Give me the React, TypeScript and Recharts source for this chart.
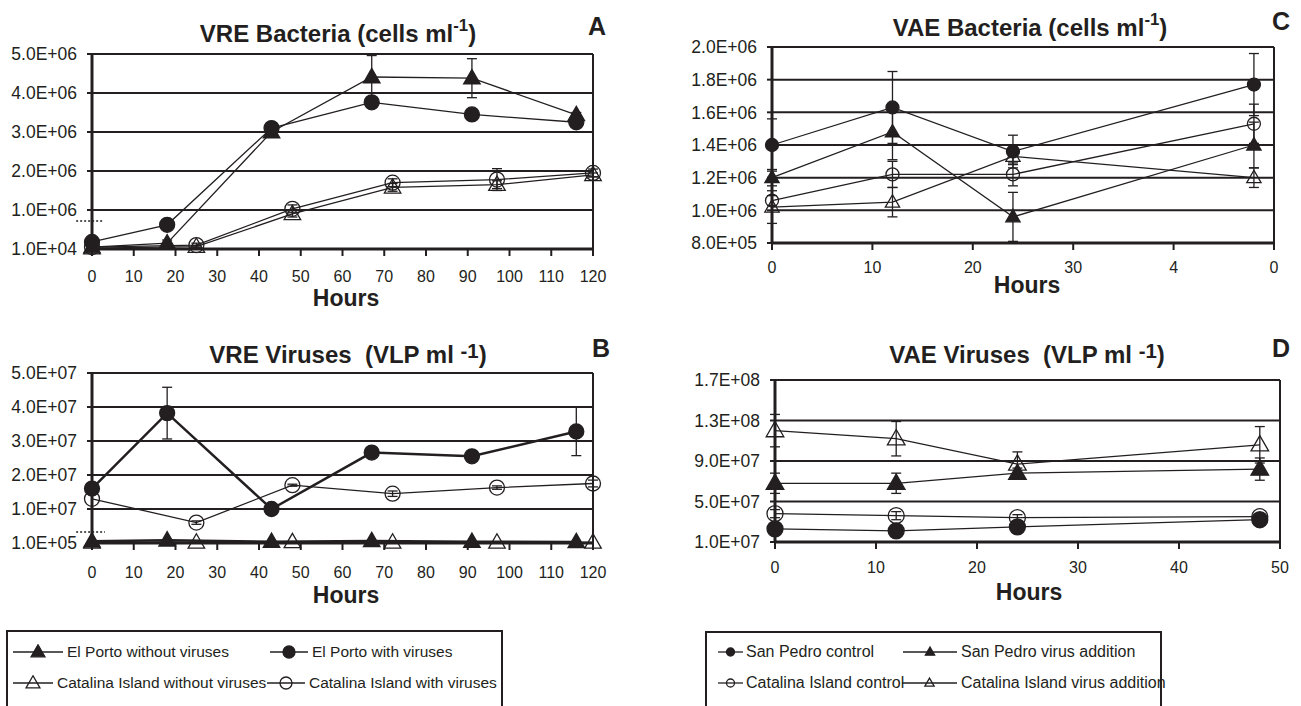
import React from 'react';
import { ScatterChart, Scatter, XAxis, YAxis, CartesianGrid, ErrorBar, ReferenceLine } from 'recharts';

const FONT = '"Liberation Sans", Arial, Helvetica, sans-serif';
const INK = '#231f20';

// ---- Panel A: VRE bacteria (cells/ml) ----
const aHoursEP = [0, 18, 43, 67, 91, 116];
const aHoursCI = [0, 25, 48, 72, 97, 120];
const aEPwithout = [0.05e6, 0.15e6, 3.0e6, 4.41e6, 4.38e6, 3.44e6];
const aEPwithoutErr = [0, 0.08e6, 0.1e6, 0.55e6, 0.5e6, 0.06e6];
const aEPwith = [0.18e6, 0.62e6, 3.1e6, 3.76e6, 3.45e6, 3.25e6];
const aEPwithErr = [0, 0.04e6, 0.05e6, 0.05e6, 0.04e6, 0.05e6];
const aCIwithout = [0.02e6, 0.06e6, 0.9e6, 1.58e6, 1.65e6, 1.9e6];
const aCIwithoutErr = [0, 0.03e6, 0.08e6, 0.1e6, 0.1e6, 0.05e6];
const aCIwith = [0.05e6, 0.1e6, 1.03e6, 1.7e6, 1.78e6, 1.95e6];
const aCIwithErr = [0, 0.05e6, 0.1e6, 0.1e6, 0.28e6, 0.1e6];
const aYTicks = [0, 1e6, 2e6, 3e6, 4e6, 5e6];
const aYLabels = ['1.0E+04', '1.0E+06', '2.0E+06', '3.0E+06', '4.0E+06', '5.0E+06'];

// ---- Panel B: VRE viruses (VLP/ml) ----
const bEPwithout = [0.05e7, 0.08e7, 0.04e7, 0.06e7, 0.04e7, 0.03e7];
const bEPwith = [1.6e7, 3.82e7, 1.0e7, 2.66e7, 2.55e7, 3.28e7];
const bEPwithErr = [0, 0.76e7, 0, 0, 0, 0.71e7];
const bCIwithout = [0.02e7, 0.02e7, 0.03e7, 0.02e7, 0.02e7, 0.02e7];
const bCIwith = [1.3e7, 0.6e7, 1.7e7, 1.45e7, 1.63e7, 1.75e7];
const bCIwithErr = [0, 0.05e7, 0.03e7, 0.08e7, 0.05e7, 0.1e7];
const bYTicks = [0, 1e7, 2e7, 3e7, 4e7, 5e7];
const bYLabels = ['1.0E+05', '1.0E+07', '2.0E+07', '3.0E+07', '4.0E+07', '5.0E+07'];

const abXTicks = [0, 10, 20, 30, 40, 50, 60, 70, 80, 90, 100, 110, 120];
const abXLabels = ['0', '10', '20', '30', '40', '50', '60', '70', '80', '90', '100', '110', '120'];

// ---- Panel C: VAE bacteria (cells/ml) ----
const cdHours = [0, 12, 24, 48];
const cSPcontrol = [1.4e6, 1.63e6, 1.36e6, 1.77e6];
const cSPcontrolErr = [0.16e6, 0.22e6, 0.1e6, 0.19e6];
const cSPvirus = [1.2e6, 1.48e6, 0.96e6, 1.4e6];
const cSPvirusErr = [0.05e6, 0.17e6, 0.15e6, 0.14e6];
const cCIcontrol = [1.06e6, 1.22e6, 1.22e6, 1.53e6];
const cCIcontrolErr = [0.03e6, 0.08e6, 0.07e6, 0.12e6];
const cCIvirus = [1.02e6, 1.05e6, 1.33e6, 1.2e6];
const cCIvirusErr = [0.1e6, 0.09e6, 0.05e6, 0.06e6];
const cYTicks = [8e5, 1e6, 1.2e6, 1.4e6, 1.6e6, 1.8e6, 2e6];
const cYLabels = ['8.0E+05', '1.0E+06', '1.2E+06', '1.4E+06', '1.6E+06', '1.8E+06', '2.0E+06'];
const cXTicks = [0, 10, 20, 30, 40, 50];
const cXLabels = ['0', '10', '20', '30', '4', '0'];

// ---- Panel D: VAE viruses (VLP/ml) ----
const dSPcontrol = [2.3e7, 2.1e7, 2.5e7, 3.2e7];
const dSPcontrolErr = [0.3e7, 0.2e7, 0.2e7, 0.2e7];
const dSPvirus = [6.8e7, 6.8e7, 7.8e7, 8.2e7];
const dSPvirusErr = [1.0e7, 1.0e7, 0.5e7, 1.1e7];
const dCIcontrol = [3.8e7, 3.6e7, 3.4e7, 3.5e7];
const dCIcontrolErr = [0.4e7, 0.4e7, 0.3e7, 0.2e7];
const dCIvirus = [1.2e8, 1.12e8, 8.7e7, 1.06e8];
const dCIvirusErr = [1.6e7, 1.7e7, 1.2e7, 1.8e7];
const dYTicks = [1e7, 5e7, 9e7, 1.3e8, 1.7e8];
const dYLabels = ['1.0E+07', '5.0E+07', '9.0E+07', '1.3E+08', '1.7E+08'];
const dXTicks = [0, 10, 20, 30, 40, 50];
const dXLabels = ['0', '10', '20', '30', '40', '50'];

type Kind = 'tri' | 'circ';
type Pt = { x: number; y: number; e?: number };

const pts = (xs: number[], ys: number[], es?: number[]): Pt[] =>
  xs.map((x, i) => ({ x, y: ys[i], e: es && es[i] ? es[i] : undefined }));

const markerShape = (kind: Kind, filled: boolean, size: number) => (p: any) => {
  const { cx, cy } = p;
  if (cx == null || cy == null) return <g />;
  const fill = filled ? INK : 'none';
  if (kind === 'circ') return <circle cx={cx} cy={cy} r={size} fill={fill} stroke={INK} strokeWidth={1.3} />;
  const w = size * 2.2;
  const h = w * 0.87;
  const poly = `${cx},${cy - h * 0.6} ${cx - w / 2},${cy + h * 0.4} ${cx + w / 2},${cy + h * 0.4}`;
  return <polygon points={poly} fill={fill} stroke={INK} strokeWidth={1.3} strokeLinejoin="miter" />;
};

interface Series {
  name: string;
  data: Pt[];
  kind: Kind;
  filled: boolean;
  lw: number;
}

interface PanelProps {
  left: number;
  top: number;
  width: number;
  height: number;
  margin: { top: number; right: number; bottom: number; left: number };
  xMax: number;
  xTicks: number[];
  xLabels: string[];
  yDomain: [number, number];
  yTicks: number[];
  yLabels: string[];
  xTickMargin: number;
  size: number;
  series: Series[];
  brk?: { y: number; x1: number; x2: number };
}

const Panel = (p: PanelProps) => (
  <div style={{ position: 'absolute', left: p.left, top: p.top }}>
    <ScatterChart width={p.width} height={p.height} margin={p.margin}>
      <CartesianGrid vertical={false} stroke={INK} strokeWidth={2} />
      <XAxis
        type="number"
        dataKey="x"
        domain={[0, p.xMax]}
        ticks={p.xTicks}
        tickFormatter={(v: number) => p.xLabels[p.xTicks.indexOf(v)]}
        height={40}
        axisLine={{ stroke: INK, strokeWidth: 3 }}
        tickLine={{ stroke: INK, strokeWidth: 2 }}
        tickSize={7}
        tickMargin={p.xTickMargin}
        tick={{ fill: INK, fontSize: 16, fontFamily: FONT }}
      />
      <YAxis
        type="number"
        dataKey="y"
        domain={p.yDomain}
        ticks={p.yTicks}
        tickFormatter={(v: number) => p.yLabels[p.yTicks.indexOf(v)]}
        width={80}
        axisLine={{ stroke: INK, strokeWidth: 3 }}
        tickLine={{ stroke: INK, strokeWidth: 2 }}
        tickSize={5}
        tickMargin={10}
        tick={{ fill: INK, fontSize: 17.5, fontFamily: FONT }}
      />
      <ReferenceLine x={p.xMax} stroke={INK} strokeWidth={2} />
      {p.brk && (
        <ReferenceLine
          segment={[{ x: p.brk.x1, y: p.brk.y }, { x: p.brk.x2, y: p.brk.y }]}
          stroke={INK}
          strokeWidth={1.5}
          strokeDasharray="2 2"
          ifOverflow="visible"
        />
      )}
      {p.series.map((s) => (
        <Scatter
          key={s.name}
          name={s.name}
          data={s.data}
          line={{ stroke: INK, strokeWidth: s.lw }}
          shape={markerShape(s.kind, s.filled, p.size)}
          isAnimationActive={false}
        >
          <ErrorBar dataKey="e" direction="y" width={5} stroke={INK} strokeWidth={1.3} isAnimationActive={false} />
        </Scatter>
      ))}
    </ScatterChart>
  </div>
);

const Title = ({ cx, baseline, text, sup, supSize, supRaise }: { cx: number; baseline: number; text: string; sup: string; supSize: number; supRaise: number }) => {
  const fs = 24;
  return (
    <div
      style={{
        position: 'absolute',
        left: cx - 250,
        width: 500,
        top: baseline - fs * 0.8465,
        textAlign: 'center',
        fontFamily: FONT,
        fontWeight: 'bold',
        fontSize: fs,
        lineHeight: 1,
        color: INK,
        whiteSpace: 'pre',
      }}
    >
      {text}
      <span style={{ position: 'relative', top: -supRaise * fs, fontSize: supSize * fs }}>{sup}</span>)
    </div>
  );
};

const BoldText = ({ x, baseline, text, fs, center }: { x: number; baseline: number; text: string; fs: number; center?: boolean }) => (
  <div
    style={{
      position: 'absolute',
      left: center ? x - 100 : x,
      width: center ? 200 : undefined,
      textAlign: center ? 'center' : 'left',
      top: baseline - fs * 0.8465,
      fontFamily: FONT,
      fontWeight: 'bold',
      fontSize: fs,
      lineHeight: 1,
      color: INK,
    }}
  >
    {text}
  </div>
);

const LegendIcon = ({ kind, filled, w, r }: { kind: Kind; filled: boolean; w: number; r: number }) => (
  <svg width={w} height={16} style={{ display: 'block' }}>
    <line x1={0} y1={8} x2={w} y2={8} stroke={INK} strokeWidth={1.3} />
    {markerShape(kind, filled, r)({ cx: w / 2, cy: 8 })}
  </svg>
);

interface LegendEntry { name: string; kind: Kind; filled: boolean }
// x = icon start, w = icon length, tx = text start (global px), row index
interface LegendSlot { x: number; w: number; tx: number; row: number }

const LegendBox = ({ left, top, width, fs, r, rows, slots, entries }: { left: number; top: number; width: number; fs: number; r: number; rows: number[]; slots: LegendSlot[]; entries: LegendEntry[] }) => (
  <div style={{ position: 'absolute', left, top, width, height: 100, border: `2px solid ${INK}`, boxSizing: 'border-box' }}>
    {entries.map((en, i) => {
      const s = slots[i];
      const cy = rows[s.row] - top - 2;
      return (
        <React.Fragment key={en.name}>
          <div style={{ position: 'absolute', left: s.x - left - 2, top: cy - 8 }}>
            <LegendIcon kind={en.kind} filled={en.filled} w={s.w} r={en.kind === 'circ' ? r : r * 1.05} />
          </div>
          <div
            style={{
              position: 'absolute',
              left: s.tx - left - 2,
              top: cy - fs * 0.55,
              fontFamily: FONT,
              fontSize: fs,
              lineHeight: 1.1,
              color: INK,
              whiteSpace: 'nowrap',
            }}
          >
            {en.name}
          </div>
        </React.Fragment>
      );
    })}
  </div>
);

const vreLegend: LegendEntry[] = [
  { name: 'El Porto without viruses', kind: 'tri', filled: true },
  { name: 'El Porto with viruses', kind: 'circ', filled: true },
  { name: 'Catalina Island without viruses', kind: 'tri', filled: false },
  { name: 'Catalina Island with viruses', kind: 'circ', filled: false },
];

const vaeLegend: LegendEntry[] = [
  { name: 'San Pedro control', kind: 'circ', filled: true },
  { name: 'San Pedro virus addition', kind: 'tri', filled: true },
  { name: 'Catalina Island control', kind: 'circ', filled: false },
  { name: 'Catalina Island virus addition', kind: 'tri', filled: false },
];

const vreSlots: LegendSlot[] = [
  { x: 13, w: 50, tx: 67, row: 0 },
  { x: 270, w: 38, tx: 312, row: 0 },
  { x: 13, w: 40, tx: 57, row: 1 },
  { x: 267, w: 38, tx: 309, row: 1 },
];

const vaeSlots: LegendSlot[] = [
  { x: 718, w: 25, tx: 746, row: 0 },
  { x: 903, w: 54, tx: 961, row: 0 },
  { x: 718, w: 25, tx: 746, row: 1 },
  { x: 902, w: 55, tx: 961, row: 1 },
];

export default function App() {
  const seriesA: Series[] = [
    { name: 'El Porto without viruses', data: pts(aHoursEP, aEPwithout, aEPwithoutErr), kind: 'tri', filled: true, lw: 1.3 },
    { name: 'El Porto with viruses', data: pts(aHoursEP, aEPwith, aEPwithErr), kind: 'circ', filled: true, lw: 1.3 },
    { name: 'Catalina Island without viruses', data: pts(aHoursCI, aCIwithout, aCIwithoutErr), kind: 'tri', filled: false, lw: 1.3 },
    { name: 'Catalina Island with viruses', data: pts(aHoursCI, aCIwith, aCIwithErr), kind: 'circ', filled: false, lw: 1.3 },
  ];
  const seriesB: Series[] = [
    { name: 'Catalina Island without viruses', data: pts(aHoursCI, bCIwithout), kind: 'tri', filled: false, lw: 1.3 },
    { name: 'Catalina Island with viruses', data: pts(aHoursCI, bCIwith, bCIwithErr), kind: 'circ', filled: false, lw: 1.3 },
    { name: 'El Porto without viruses', data: pts(aHoursEP, bEPwithout), kind: 'tri', filled: true, lw: 2.5 },
    { name: 'El Porto with viruses', data: pts(aHoursEP, bEPwith, bEPwithErr), kind: 'circ', filled: true, lw: 2.5 },
  ];
  const seriesC: Series[] = [
    { name: 'San Pedro control', data: pts(cdHours, cSPcontrol, cSPcontrolErr), kind: 'circ', filled: true, lw: 1.3 },
    { name: 'San Pedro virus addition', data: pts(cdHours, cSPvirus, cSPvirusErr), kind: 'tri', filled: true, lw: 1.3 },
    { name: 'Catalina Island control', data: pts(cdHours, cCIcontrol, cCIcontrolErr), kind: 'circ', filled: false, lw: 1.3 },
    { name: 'Catalina Island virus addition', data: pts(cdHours, cCIvirus, cCIvirusErr), kind: 'tri', filled: false, lw: 1.3 },
  ];
  const seriesD: Series[] = [
    { name: 'San Pedro control', data: pts(cdHours, dSPcontrol, dSPcontrolErr), kind: 'circ', filled: true, lw: 1.3 },
    { name: 'San Pedro virus addition', data: pts(cdHours, dSPvirus, dSPvirusErr), kind: 'tri', filled: true, lw: 1.3 },
    { name: 'Catalina Island control', data: pts(cdHours, dCIcontrol, dCIcontrolErr), kind: 'circ', filled: false, lw: 1.3 },
    { name: 'Catalina Island virus addition', data: pts(cdHours, dCIvirus, dCIvirusErr), kind: 'tri', filled: false, lw: 1.3 },
  ];

  return (
    <div style={{ position: 'absolute', left: 0, top: 0, width: 1301, height: 706, background: '#fff', overflow: 'hidden' }}>
      <Panel
        left={0} top={0} width={640} height={310}
        margin={{ top: 54, right: 47, bottom: 21, left: 12 }}
        xMax={120} xTicks={abXTicks} xLabels={abXLabels}
        yDomain={[0, 5e6]} yTicks={aYTicks} yLabels={aYLabels}
        xTickMargin={15} size={7.5} series={seriesA}
        brk={{ y: 0.72e6, x1: -3.8, x2: 2.6 }}
      />
      <Panel
        left={0} top={320} width={640} height={290}
        margin={{ top: 53, right: 47, bottom: 27, left: 12 }}
        xMax={120} xTicks={abXTicks} xLabels={abXLabels}
        yDomain={[0, 5e7]} yTicks={bYTicks} yLabels={bYLabels}
        xTickMargin={17} size={7.5} series={seriesB}
        brk={{ y: 0.32e7, x1: -3.8, x2: 3.1 }}
      />
      <Panel
        left={640} top={0} width={661} height={300}
        margin={{ top: 47, right: 27, bottom: 17, left: 52 }}
        xMax={50} xTicks={cXTicks} xLabels={cXLabels}
        yDomain={[8e5, 2e6]} yTicks={cYTicks} yLabels={cYLabels}
        xTickMargin={12} size={6.5} series={seriesC}
      />
      <Panel
        left={640} top={320} width={661} height={290}
        margin={{ top: 60, right: 21, bottom: 28, left: 55 }}
        xMax={50} xTicks={dXTicks} xLabels={dXLabels}
        yDomain={[1e7, 1.7e8]} yTicks={dYTicks} yLabels={dYLabels}
        xTickMargin={13} size={8} series={seriesD}
      />

      <Title cx={338} baseline={42} text="VRE Bacteria (cells ml" sup="-1" supSize={0.7} supRaise={0.45} />
      <Title cx={348} baseline={363} text="VRE Viruses  (VLP ml " sup="-1" supSize={0.85} supRaise={0.2} />
      <Title cx={1030} baseline={36} text="VAE Bacteria (cells ml" sup="-1" supSize={0.7} supRaise={0.45} />
      <Title cx={1027} baseline={363} text="VAE Viruses  (VLP ml " sup="-1" supSize={0.85} supRaise={0.2} />

      <BoldText x={588} baseline={35} text="A" fs={25} />
      <BoldText x={592} baseline={357} text="B" fs={25} />
      <BoldText x={1272} baseline={30} text="C" fs={25} />
      <BoldText x={1272} baseline={357} text="D" fs={25} />

      <BoldText x={346} baseline={306} text="Hours" fs={23} center />
      <BoldText x={346} baseline={603} text="Hours" fs={23} center />
      <BoldText x={1027} baseline={293} text="Hours" fs={23} center />
      <BoldText x={1029} baseline={600} text="Hours" fs={23} center />

      <LegendBox left={6} top={630} width={497} fs={15.5} r={6} rows={[652, 683]} slots={vreSlots} entries={vreLegend} />
      <LegendBox left={705} top={631} width={457} fs={16} r={4} rows={[652, 683]} slots={vaeSlots} entries={vaeLegend} />
    </div>
  );
}
